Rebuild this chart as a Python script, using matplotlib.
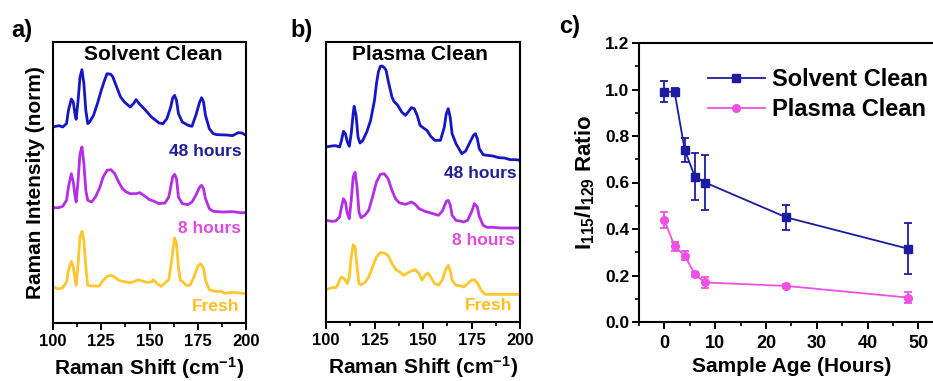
import matplotlib
matplotlib.use("Agg")
import matplotlib.pyplot as plt
from matplotlib.ticker import MultipleLocator, NullLocator

plt.rcParams['font.family'] = ['Liberation Sans', 'DejaVu Sans']
plt.rcParams['font.weight'] = 'bold'
plt.rcParams['mathtext.fontset'] = 'custom'
plt.rcParams['mathtext.rm'] = 'Liberation Sans:bold'
plt.rcParams['mathtext.it'] = 'Liberation Sans:bold'
plt.rcParams['mathtext.bf'] = 'Liberation Sans:bold'
plt.rcParams['mathtext.default'] = 'rm'

# ---------------- Panel a: Solvent Clean spectra (arbitrary offset units) ----------------
a48_x = [100, 103, 105, 107, 108, 109.5, 110.5, 111.5, 112, 113, 114, 115, 116, 117, 118, 119, 121, 123, 125, 127,
         128, 130, 131, 133, 135, 137, 140, 142, 143, 145, 148, 151, 155, 157, 159, 161, 162, 163, 164, 165,
         167, 170, 172, 174, 176, 177, 178, 179, 181, 183, 185, 190, 193, 196, 198, 200]
a48_y = [58.8, 59.2, 58.8, 59.8, 63.8, 67.2, 66.3, 62.3, 61.1, 66.8, 73.8, 76.0, 71.8, 63.8, 59.8, 60.3, 62.3, 65.8, 69.8, 73.3,
         74.8, 74.6, 73.8, 70.8, 67.8, 66.3, 64.8, 66.0, 67.0, 65.6, 63.8, 61.8, 60.0, 59.8, 61.3, 64.8, 67.5, 68.3, 66.8, 62.8,
         60.3, 59.3, 59.0, 62.3, 66.3, 67.6, 66.3, 62.3, 58.3, 56.8, 56.5, 56.4, 56.2, 57.1, 57.0, 56.3]

a8_x = [100, 103, 105, 107, 108, 109.5, 110.5, 111.5, 112, 113, 114, 115, 116, 117, 118, 120, 122, 124, 126, 128,
        130, 132, 134, 136, 138, 140, 143, 145, 147, 150, 152, 155, 158, 160, 162, 163, 164, 165, 167, 170,
        172, 174, 176, 177, 178, 179, 181, 183, 188, 193, 197, 200]
a8_y = [34.6, 34.6, 35.0, 36.8, 40.8, 44.8, 42.3, 37.8, 36.3, 42.8, 50.8, 52.8, 47.8, 39.8, 36.8, 36.3, 37.8, 40.3, 43.8, 45.8,
        46.0, 44.8, 42.3, 40.3, 39.3, 38.8, 38.8, 39.1, 38.3, 37.0, 36.6, 35.8, 36.0, 37.8, 43.8, 44.6, 43.3, 37.8, 35.8, 35.5,
        36.3, 38.3, 40.8, 41.3, 40.3, 37.3, 34.3, 33.5, 33.3, 33.4, 33.1, 33.1]

afr_x = [100, 103, 105, 107, 108, 109.5, 110.5, 111.5, 112, 113, 114, 115, 116, 117, 118, 120, 124, 126, 128, 130,
         132, 134, 136, 140, 142, 144, 146, 149, 151, 152, 154, 156, 158, 160, 161.5, 163, 164, 165, 166, 167,
         169, 171, 173, 175, 176.5, 178, 179, 181, 184, 187, 189, 193, 200]
afr_y = [10.8, 10.2, 10.6, 12.3, 15.8, 18.5, 16.8, 12.8, 11.3, 17.8, 25.8, 27.5, 24.8, 16.8, 11.3, 11.1, 11.1, 12.8, 14.0, 14.3,
         13.8, 12.8, 12.5, 12.1, 12.4, 13.0, 12.6, 12.2, 12.3, 13.0, 11.8, 11.0, 12.0, 13.0, 18.8, 25.5, 23.8, 16.8, 12.8, 12.5,
         11.3, 11.3, 13.8, 17.0, 17.8, 16.5, 12.8, 10.0, 9.5, 9.5, 8.9, 9.2, 8.8]

# ---------------- Panel b: Plasma Clean spectra ----------------
b48_x = [100, 103, 105, 107, 108, 109, 110, 111, 112, 113, 114, 114.5, 115.5, 116.5, 117.5, 119, 121, 123, 125, 126,
         127, 128, 129, 130, 131, 132, 134, 135, 137, 139, 141, 143, 144, 145.5, 147, 148.5, 150, 152, 154, 156,
         159, 161, 162, 163, 164, 165, 167, 170, 172, 174, 176, 177, 178, 179, 181, 183, 186, 189, 192, 195, 198, 200]
b48_y = [52.5, 52.8, 52.9, 52.5, 54.5, 57.2, 56.5, 54.0, 52.7, 56.5, 62.5, 64.7, 62.0, 55.5, 53.7, 54.5, 57.0, 60.5, 66.5, 71.5,
         75.0, 76.7, 76.8, 76.3, 75.5, 72.5, 67.5, 66.2, 65.0, 63.0, 62.0, 63.5, 64.3, 64.0, 62.0, 59.0, 58.3, 57.5, 55.7, 54.5,
         54.5, 58.5, 62.5, 64.0, 61.5, 56.5, 53.5, 50.5, 51.3, 53.7, 56.0, 56.5, 55.0, 52.0, 50.2, 50.0, 49.8, 49.3, 49.2, 48.7, 48.7, 48.5]

b8_x = [100, 103, 105, 107, 108, 109, 110, 111, 112, 113, 114, 115, 116, 117, 118, 120, 122, 124, 126, 128,
        130, 132, 134, 136, 138, 141, 144, 146, 148, 151, 154, 158, 160, 162, 163, 164, 165, 167, 169, 171,
        173, 175, 176.5, 178, 179, 181, 183, 186, 190, 195, 200]
b8_y = [30.5, 30.2, 30.3, 31.5, 34.5, 37.0, 36.0, 32.5, 31.0, 36.5, 43.5, 44.9, 40.5, 33.0, 31.3, 32.0, 33.5, 37.5, 42.0, 44.3,
        44.5, 43.0, 39.5, 36.8, 35.7, 35.3, 36.0, 35.3, 34.0, 33.2, 32.7, 32.0, 33.3, 36.2, 36.5, 35.2, 32.0, 30.5, 30.3, 30.0,
        30.5, 33.0, 35.5, 34.5, 31.7, 29.0, 28.4, 28.4, 28.2, 28.2, 28.2]

bfr_x = [100, 103, 105, 106, 107, 108, 109, 110, 111, 112, 113, 114, 115, 116, 117, 118, 120, 122, 124, 126,
         128, 130, 132, 134, 136, 138, 140, 142, 144, 146, 148, 149.5, 151, 152.5, 154, 156, 158, 160, 161.5, 163,
         164, 165, 167, 169, 171, 173, 175, 176.5, 178, 180, 182, 186, 190, 195, 200]
bfr_y = [9.7, 10.3, 10.3, 11.0, 12.7, 13.5, 13.2, 12.5, 11.5, 13.5, 19.5, 23.2, 22.5, 16.5, 11.5, 11.2, 11.8, 13.5, 16.5, 19.5,
         20.8, 20.7, 20.0, 17.5, 15.7, 15.0, 14.0, 14.7, 15.3, 15.7, 14.5, 12.5, 14.0, 14.7, 13.5, 11.5, 11.0, 12.7, 15.5, 17.0,
         15.5, 12.5, 11.0, 10.9, 10.5, 11.5, 12.5, 12.7, 11.7, 9.5, 8.3, 8.3, 8.3, 8.3, 8.3]

# ---------------- Panel c: intensity ratio vs sample age ----------------
age_hours = [0, 2, 4, 6, 8, 24, 48]
solvent_ratio = [0.99, 0.99, 0.74, 0.625, 0.60, 0.45, 0.315]
solvent_err = [0.045, 0.015, 0.05, 0.10, 0.12, 0.055, 0.11]
plasma_ratio = [0.44, 0.325, 0.285, 0.205, 0.17, 0.155, 0.105]
plasma_err = [0.035, 0.02, 0.02, 0.01, 0.025, 0.01, 0.025]

spec_ticks = [100, 125, 150, 175, 200]
ratio_yticks = [0.0, 0.2, 0.4, 0.6, 0.8, 1.0, 1.2]
ratio_xticks = [0, 10, 20, 30, 40, 50]

C_BLUE = '#1616c4'
C_PURPLE = '#b42ee8'
C_YELLOW = '#ffc62e'
T_BLUE = '#1e1e96'
T_MAG = '#e04be0'
T_YEL = '#ffbf1f'
C_SOLV = '#1c1ca0'
C_PLAS = '#f050e4'

fig = plt.figure(figsize=(9.33, 3.81), dpi=100)

W, H = 933.0, 381.0
def box(l, t, r, b):
    return [l / W, 1 - b / H, (r - l) / W, (b - t) / H]

ax_a = fig.add_axes(box(53, 42, 246, 323))
ax_b = fig.add_axes(box(326, 42, 520, 322))
ax_c = fig.add_axes(box(639, 43, 639 + 304.8, 322))

def style_spec(ax, ytop):
    ax.set_xlim(100, 200)
    ax.set_ylim(0, ytop)
    ax.set_xticks(spec_ticks)
    ax.xaxis.set_minor_locator(MultipleLocator(12.5))
    ax.yaxis.set_major_locator(NullLocator())
    ax.tick_params(axis='x', which='major', direction='out', length=5, width=1.4, labelsize=12, pad=3)
    ax.tick_params(axis='x', which='minor', direction='out', length=3, width=1.2)
    for s in ax.spines.values():
        s.set_linewidth(1.5)
    for lab in ax.get_xticklabels():
        lab.set_fontweight('bold')
    ax.set_xlabel('Raman Shift (cm$^{-1}$)', fontsize=15, fontweight='bold', labelpad=4)

lw = 2.0
ax_a.plot(a48_x, a48_y, color=C_BLUE, lw=lw)
ax_a.plot(a8_x, a8_y, color=C_PURPLE, lw=lw)
ax_a.plot(afr_x, afr_y, color=C_YELLOW, lw=lw)
style_spec(ax_a, 84.3)
ax_a.set_ylabel('Raman Intensity (norm)', fontsize=15, fontweight='bold', labelpad=6)
ax_a.text(0.518, 0.954, 'Solvent Clean', transform=ax_a.transAxes, ha='center', va='center', fontsize=15, fontweight='bold')
ax_a.text(0.975, 0.612, '48 hours', transform=ax_a.transAxes, ha='right', va='center', fontsize=12.5, fontweight='bold', color=T_BLUE)
ax_a.text(0.975, 0.335, '8 hours', transform=ax_a.transAxes, ha='right', va='center', fontsize=12.5, fontweight='bold', color=T_MAG)
ax_a.text(0.965, 0.060, 'Fresh', transform=ax_a.transAxes, ha='right', va='center', fontsize=12.5, fontweight='bold', color=T_YEL)

ax_b.plot(b48_x, b48_y, color=C_BLUE, lw=lw)
ax_b.plot(b8_x, b8_y, color=C_PURPLE, lw=lw)
ax_b.plot(bfr_x, bfr_y, color=C_YELLOW, lw=lw)
style_spec(ax_b, 84.0)
ax_b.text(0.485, 0.954, 'Plasma Clean', transform=ax_b.transAxes, ha='center', va='center', fontsize=15, fontweight='bold')
ax_b.text(0.985, 0.530, '48 hours', transform=ax_b.transAxes, ha='right', va='center', fontsize=12.5, fontweight='bold', color=T_BLUE)
ax_b.text(0.975, 0.292, '8 hours', transform=ax_b.transAxes, ha='right', va='center', fontsize=12.5, fontweight='bold', color=T_MAG)
ax_b.text(0.960, 0.060, 'Fresh', transform=ax_b.transAxes, ha='right', va='center', fontsize=12.5, fontweight='bold', color=T_YEL)

# Panel c
ax_c.errorbar(age_hours, solvent_ratio, yerr=solvent_err, fmt='none', ecolor=C_SOLV, elinewidth=1.3, capsize=3, capthick=1.3)
ax_c.plot(age_hours, solvent_ratio, color=C_SOLV, lw=1.3, marker='s', ms=5.5, label='Solvent Clean')
ax_c.errorbar(age_hours, plasma_ratio, yerr=plasma_err, fmt='none', ecolor=C_PLAS, elinewidth=1.3, capsize=3, capthick=1.3)
ax_c.plot(age_hours, plasma_ratio, color=C_PLAS, lw=1.3, marker='o', ms=5.5, label='Plasma Clean')
ax_c.set_xlim(-5, 55)
ax_c.set_ylim(0, 1.2)
ax_c.set_xticks(ratio_xticks)
ax_c.set_yticks(ratio_yticks)
ax_c.set_yticklabels(['%.1f' % v for v in ratio_yticks])
ax_c.xaxis.set_minor_locator(MultipleLocator(5))
ax_c.yaxis.set_minor_locator(MultipleLocator(0.1))
ax_c.tick_params(axis='both', which='major', direction='out', length=5, width=1.4)
ax_c.tick_params(axis='both', which='minor', direction='out', length=3, width=1.2)
ax_c.tick_params(axis='x', labelsize=13, pad=4)
ax_c.tick_params(axis='y', labelsize=12.5, pad=2)
for lab in ax_c.get_xticklabels() + ax_c.get_yticklabels():
    lab.set_fontweight('bold')
for s in ax_c.spines.values():
    s.set_linewidth(1.5)
ax_c.set_xlabel('Sample Age (Hours)', fontsize=15, fontweight='bold', labelpad=4)
ax_c.set_ylabel('I$_{115}$/I$_{129}$ Ratio', fontsize=16, fontweight='bold', labelpad=6)
leg = ax_c.legend(loc='upper left', bbox_to_anchor=(708 / W, 1 - 68 / H), bbox_transform=fig.transFigure,
                  frameon=False, handlelength=2.4, handletextpad=0.3, labelspacing=0.3,
                  borderpad=0, borderaxespad=0, prop={'weight': 'bold', 'size': 17})

fig.text(11 / W, 1 - 31 / H, 'a)', fontsize=17, fontweight='bold', va='center', ha='left')
fig.text(290 / W, 1 - 31 / H, 'b)', fontsize=17, fontweight='bold', va='center', ha='left')
fig.text(559 / W, 1 - 26 / H, 'c)', fontsize=17, fontweight='bold', va='center', ha='left')

fig.savefig('out.png', dpi=100)
